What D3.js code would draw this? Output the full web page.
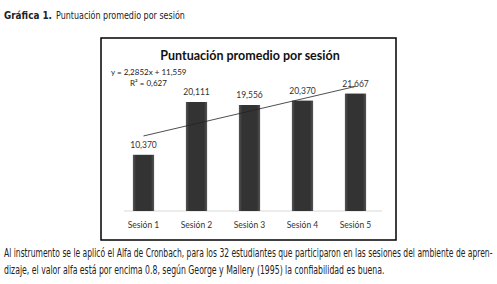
<!DOCTYPE html>
<html><head><meta charset="utf-8">
<script src="https://cdn.jsdelivr.net/npm/d3@7"></script>
<style>html,body{margin:0;padding:0;background:#fff;}svg{display:block;}</style>
</head><body>
<script>
const categories = ["Sesión 1","Sesión 2","Sesión 3","Sesión 4","Sesión 5"];
const values = [10.370, 20.111, 19.556, 20.370, 21.667];
const valueLabels = ["10,370","20,111","19,556","20,370","21,667"];
const trendSlope = 2.2852, trendIntercept = 11.559;
const trendLabel = ["y = 2,2852x + 11,559", "R² = 0,627"];
const chartTitle = "Puntuación promedio por sesión";
const captionBold = "Gráfica 1.";
const captionText = "Puntuación promedio por sesión";
const paragraph = [
  "Al instrumento se le aplicó el Alfa de Cronbach, para los 32 estudiantes que participaron en las sesiones del ambiente de apren-",
  "dizaje, el valor alfa está por encima 0.8, según George y Mallery (1995) la confiabilidad es buena."
];

const W = 497, H = 284;
const svg = d3.select("body").append("svg").attr("width", W).attr("height", H);
const narrow = "'DejaVu Sans','Liberation Sans',sans-serif";
const chartFont = "Lato,'Open Sans',sans-serif";

// condensed text: draw then squeeze horizontally to a target width
function squeezed(txt, x0, y0, size, width, bold) {
  const t = svg.append("text").attr("x", 0).attr("y", 0)
    .attr("font-family", narrow).attr("font-size", size).attr("fill", "#222")
    .attr("font-weight", bold ? "bold" : "normal").text(txt);
  const natural = t.node().getComputedTextLength();
  t.attr("transform", `translate(${x0},${y0}) scale(${width / natural},1)`);
  return t;
}

// caption
squeezed(captionBold, 4, 19, 10.5, 48, true);
squeezed(captionText, 56, 19, 10.5, 129, false);

// frame
svg.append("rect").attr("x", 101).attr("y", 38).attr("width", 295).attr("height", 202)
  .attr("fill", "#fff").attr("stroke", "#000").attr("stroke-width", 1.5);

const x = d3.scaleBand().domain(categories).range([117, 382]).paddingInner(0.6).paddingOuter(0.3);
const y = d3.scaleLinear().domain([0, 25]).range([211, 75.5]);

const defs = svg.append("defs");
const g = defs.append("linearGradient").attr("id", "barg").attr("x1", "0").attr("x2", "1").attr("y1", "0").attr("y2", "0");
g.append("stop").attr("offset", "0%").attr("stop-color", "#555");
g.append("stop").attr("offset", "15%").attr("stop-color", "#333");
g.append("stop").attr("offset", "85%").attr("stop-color", "#333");
g.append("stop").attr("offset", "100%").attr("stop-color", "#555");

// baseline
svg.append("line").attr("x1", 124).attr("x2", 382).attr("y1", y(0)).attr("y2", y(0))
  .attr("stroke", "#d9d9d9").attr("stroke-width", 1.2);

svg.selectAll("rect.bar").data(values).join("rect").attr("class", "bar")
  .attr("x", (d, i) => x(categories[i])).attr("width", x.bandwidth())
  .attr("y", d => y(d)).attr("height", d => y(0) - y(d))
  .attr("fill", "url(#barg)");

// x axis labels
const xAxis = d3.axisBottom(x).tickSize(0).tickPadding(11);
const gx = svg.append("g").attr("transform", `translate(0,${y(0)})`).call(xAxis);
gx.select(".domain").remove();
gx.selectAll("text").attr("font-family", chartFont).attr("font-size", 8.5).attr("fill", "#333");

// value labels
svg.selectAll("text.vl").data(values).join("text").attr("class", "vl")
  .attr("x", (d, i) => x(categories[i]) + x.bandwidth() / 2)
  .attr("y", d => y(d) - 7).attr("text-anchor", "middle")
  .attr("font-family", chartFont).attr("font-size", 8.5).attr("fill", "#333")
  .text((d, i) => valueLabels[i]);

// trend line
const line = d3.line().x(i => x(categories[i - 1]) + x.bandwidth() / 2).y(i => y(trendSlope * i + trendIntercept));
svg.append("path").datum([1, 5]).attr("d", line).attr("fill", "none").attr("stroke", "#222").attr("stroke-width", 0.8);

// trend equation
svg.append("text").attr("x", 111).attr("y", 75).attr("font-family", chartFont).attr("font-size", 8).attr("fill", "#222").text(trendLabel[0]);
svg.append("text").attr("x", 130).attr("y", 86).attr("font-family", chartFont).attr("font-size", 8).attr("fill", "#222").text(trendLabel[1]);

// chart title
svg.append("text").attr("x", 250).attr("y", 60).attr("text-anchor", "middle")
  .attr("font-family", chartFont).attr("font-weight", "bold").attr("font-size", 12.5).attr("fill", "#111").text(chartTitle);

// paragraph
squeezed(paragraph[0], 4, 256.5, 11.5, 489, false);
squeezed(paragraph[1], 4, 274, 11.5, 381, false);
</script>
</body></html>
